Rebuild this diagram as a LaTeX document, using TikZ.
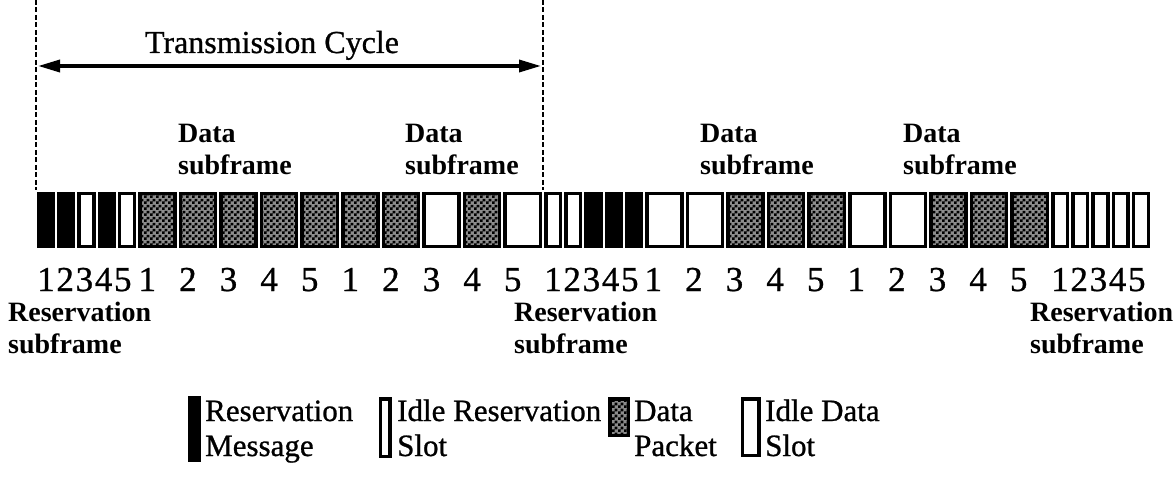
\documentclass[tikz,border=0pt]{standalone}
\usepackage{fontspec}
\setmainfont{Liberation Serif}
\newfontfamily\heavyserif{Liberation Serif}[FakeBold=0.8]
\usetikzlibrary{arrows.meta,patterns}

% fine dither used for data packets
\pgfdeclarepatternformonly{finechecker}{\pgfpointorigin}{\pgfpoint{6pt}{6pt}}{\pgfpoint{6pt}{6pt}}{%
  \pgfpathrectangle{\pgfpointorigin}{\pgfpoint{3pt}{3pt}}%
  \pgfpathrectangle{\pgfpoint{3pt}{3pt}}{\pgfpoint{3pt}{3pt}}%
  \pgfusepath{fill}}

\tikzset{
  slotbase/.style={draw=black, line width=3.5pt, inner sep=0pt, rectangle},
  resmsg/.style={slotbase, fill=black},
  idle/.style={slotbase, fill=white},
  packet/.style={slotbase, fill=black!45, postaction={pattern=finechecker}},
  digit/.style={anchor=base, inner sep=0pt, font=\heavyserif\fontsize{35}{38}\selectfont},
  sublabel/.style={anchor=base west, inner sep=0pt, font=\fontsize{28}{32}\selectfont\bfseries},
  legtext/.style={anchor=base west, inner sep=0pt, font=\heavyserif\fontsize{31}{36}\selectfont},
  cycleline/.style={line width=2.5pt, dash pattern=on 5pt off 2.5pt},
  cyclearrow/.style={line width=3.5pt, arrows={Triangle[length=22pt, width=12pt]-Triangle[length=22pt, width=12pt]}},
}

\begin{document}
\begin{tikzpicture}[x=1pt, y=-1pt]
\useasboundingbox (0,0) rectangle (1176,492);

% slot row: subframe name / left edge / slot pitch / first digit / digit step / slot kinds
\foreach \sf/\xs/\pw/\dz/\ds/\kinds in {
  ra/36/20.2/46/19.2/{resmsg,resmsg,idle,resmsg,idle},
  da/137/40.6/147.3/40.6/{packet,packet,packet,packet,packet},
  db/340/40.6/350.3/40.6/{packet,packet,idle,packet,idle},
  rb/543/20.2/553/19.2/{idle,idle,resmsg,resmsg,resmsg},
  dc/644/40.6/653.3/40.6/{idle,idle,packet,packet,packet},
  dd/847/40.6/856.3/40.6/{idle,idle,packet,packet,packet},
  rc/1050/20.2/1060/19.2/{idle,idle,idle,idle,idle}}{
  \foreach \st [count=\k] in \kinds {
    \node[\st, minimum width={\pw-5.5}, minimum height=52.5]
      (\sf\k) at ({\xs+(\k-0.5)*\pw}, 220) {};
    \node[digit] (\sf n\k) at ({\dz+(\k-1)*\ds}, 291) {\k};
  }
}

% transmission cycle markers
\coordinate (cycLtop) at (36,0);
\coordinate (cycLbot) at (36,190);
\coordinate (cycRtop) at (543,0);
\coordinate (cycRbot) at (543,190);
\draw[cycleline] (cycLtop) -- (cycLbot);
\draw[cycleline] (cycRtop) -- (cycRbot);
\coordinate (arrL) at (38,66);
\coordinate (arrR) at (541,66);
\draw[cyclearrow] (arrL) -- (arrR);
\node[anchor=base, inner sep=0pt, font=\heavyserif\fontsize{32}{38}\selectfont] (title) at (272,53) {Transmission Cycle};

% data subframe labels
\node[sublabel] (dlA1) at (178,143) {Data};
\node[sublabel] (dlA2) at (178,175) {subframe};
\node[sublabel] (dlB1) at (405,143) {Data};
\node[sublabel] (dlB2) at (405,175) {subframe};
\node[sublabel] (dlC1) at (700,143) {Data};
\node[sublabel] (dlC2) at (700,175) {subframe};
\node[sublabel] (dlD1) at (903,143) {Data};
\node[sublabel] (dlD2) at (903,175) {subframe};

% reservation subframe labels
\node[sublabel] (rlA1) at (8,321) {Reservation};
\node[sublabel] (rlA2) at (8,353) {subframe};
\node[sublabel] (rlB1) at (514,321) {Reservation};
\node[sublabel] (rlB2) at (514,353) {subframe};
\node[sublabel] (rlC1) at (1030,321) {Reservation};
\node[sublabel] (rlC2) at (1030,353) {subframe};

% legend
\node[resmsg, minimum width=9.5, minimum height=62.5] (lgMsg) at (194.5,429) {};
\node[legtext] (lgMsgA) at (205,421) {Reservation};
\node[legtext] (lgMsgB) at (205,456) {Message};
\node[idle, minimum width=9.5, minimum height=57.5] (lgIdleR) at (385,427.5) {};
\node[legtext] (lgIdleRA) at (397,421) {Idle Reservation};
\node[legtext] (lgIdleRB) at (397,456) {Slot};
\node[packet, minimum width=18.5, minimum height=36.5] (lgPkt) at (619,417) {};
\node[legtext] (lgPktA) at (634,421) {Data};
\node[legtext] (lgPktB) at (634,456) {Packet};
\node[idle, minimum width=16.5, minimum height=56.5] (lgIdleD) at (750.5,427) {};
\node[legtext] (lgIdleDA) at (765,421) {Idle Data};
\node[legtext] (lgIdleDB) at (765,456) {Slot};
\end{tikzpicture}
\end{document}
